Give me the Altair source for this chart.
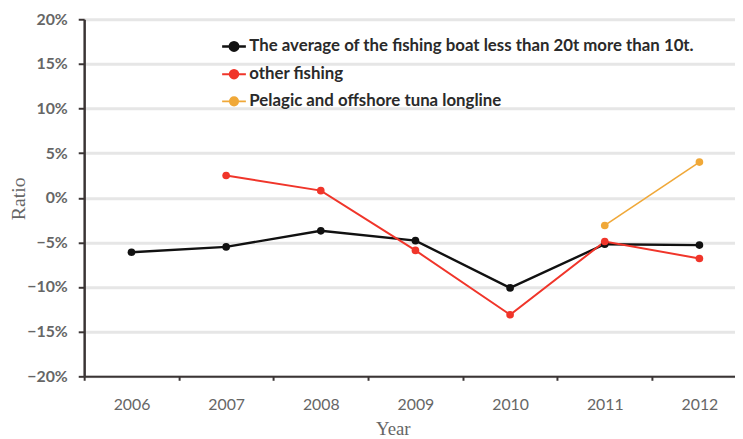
import altair as alt
import pandas as pd

years = [2006, 2007, 2008, 2009, 2010, 2011, 2012]
series_names = [
    "The average of the fishing boat less than 20t more than 10t.",
    "other fishing",
    "Pelagic and offshore tuna longline",
]
avg_boat = [-0.061, -0.055, -0.037, -0.048, -0.101, -0.052, -0.053]
other_fishing = [None, 0.025, 0.008, -0.059, -0.131, -0.049, -0.068]
tuna_longline = [None, None, None, None, None, -0.031, 0.040]
colors = ["#111111", "#f0352a", "#f0a838"]
line_widths = [2.4, 1.6, 1.6]

rows = []
for name, vals in zip(series_names, [avg_boat, other_fishing, tuna_longline]):
    for y, v in zip(years, vals):
        if v is not None:
            rows.append({"Year": y, "Ratio": v, "Series": name})
df = pd.DataFrame(rows)

symbol_path = ("M -1 0 L 1 0 M 0.36 0 A 0.36 0.36 0 1 1 -0.36 0 "
               "A 0.36 0.36 0 1 1 0.36 0 Z")

x = alt.X(
    "Year:Q",
    scale=alt.Scale(domain=[2005.5, 2012.376], nice=False, zero=False),
    axis=alt.Axis(
        values=[2005.5, 2006.5, 2007.5, 2008.5, 2009.5, 2010.5, 2011.5],
        labelExpr="toString(datum.value + 0.5)",
        labelOffset=47.85,
        labelFlush=False,
        labelOverlap=False,
        grid=False,
        domainColor="#3a3434",
        domainWidth=2,
        tickColor="#3a3434",
        tickWidth=2,
        tickSize=4,
        labelColor="#666666",
        labelFont="Lato",
        labelFontSize=16,
        labelPadding=17,
        title="Year",
        titleFont="Liberation Serif",
        titleFontSize=19,
        titleFontWeight="normal",
        titleColor="#666666",
        titlePadding=7,
        titleX=312,
    ),
)
y = alt.Y(
    "Ratio:Q",
    scale=alt.Scale(domain=[-0.2, 0.2], nice=False),
    axis=alt.Axis(
        values=[-0.2, -0.15, -0.1, -0.05, 0, 0.05, 0.1, 0.15, 0.2],
        format=".0%",
        grid=True,
        gridColor="#e6e6e6",
        gridWidth=3,
        domainColor="#3a3434",
        domainWidth=2.5,
        tickColor="#3a3434",
        tickWidth=2,
        tickSize=6,
        labelColor="#666666",
        labelFont="Lato",
        labelFontSize=16,
        labelFontWeight="bold",
        labelPadding=11,
        title="Ratio",
        titleFont="Liberation Serif",
        titleFontSize=20,
        titleFontWeight="normal",
        titleColor="#666666",
        titleX=-56,
        titleY=181,
        titleAngle=270,
        titleAlign="center",
        titleBaseline="bottom",
    ),
)
color = alt.Color(
    "Series:N",
    scale=alt.Scale(domain=series_names, range=colors),
    sort=series_names,
    legend=alt.Legend(
        title=None,
        orient="none",
        legendX=138,
        legendY=14,
        symbolType=symbol_path,
        symbolSize=576,
        symbolStrokeWidth=1.5,
        labelFont="Lato",
        labelFontSize=17,
        labelFontWeight="bold",
        labelColor="#2a2a2a",
        labelLimit=700,
        labelOffset=2,
        rowPadding=5.5,
        padding=0,
    ),
)
width = alt.StrokeWidth(
    "Series:N",
    scale=alt.Scale(domain=series_names, range=line_widths),
    legend=None,
)

line = alt.Chart(df).mark_line(
    point=alt.OverlayMarkDef(filled=True, size=60, opacity=1)
).encode(x=x, y=y, color=color, strokeWidth=width)

chart = line.properties(
    width=658,
    height=361,
    autosize=alt.AutoSizeParams(type="none"),
    padding={"left": 77, "top": 9, "right": 0, "bottom": 61},
).configure_view(stroke=None).configure(background="white")

chart.save("out.html", embed_options={"renderer": "svg", "actions": False})
